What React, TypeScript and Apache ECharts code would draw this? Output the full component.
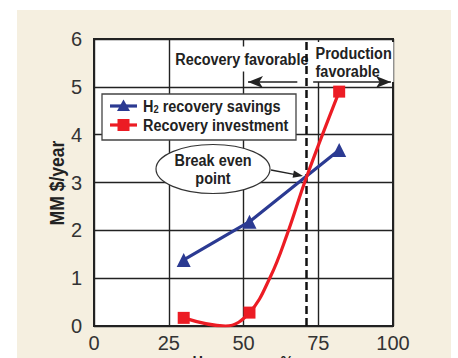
import React, { useEffect, useRef } from 'react';
import * as echarts from 'echarts';

const xTicks = [0, 25, 50, 75, 100];
const yTicks = [0, 1, 2, 3, 4, 5, 6];
const savingsName = 'H2 recovery savings';
const investName = 'Recovery investment';
const savingsX = [30, 52, 82];
const savingsY = [1.38, 2.18, 3.68];
const investX = [30, 44, 52, 59, 64.5, 71, 82];
const investY = [0.17, 0, 0.28, 1.03, 1.9, 3.1, 4.9];
const investMarked = [true, false, true, false, false, false, true];
const breakEvenX = 71;
const leftArrow = [68, 51.5, 5.1];
const rightArrow = [73.3, 99.3, 5.1];

const FF = '"Liberation Sans", Arial, sans-serif';
const SX = 0.85;
const BLUE = '#2b3a92';
const RED = '#ec1c24';
const INK = '#222';

const txt = (text: string, x: number, y: number, extra: any = {}, z = 5) => ({
  type: 'text', x, y, scaleX: SX, z,
  style: {
    text, fontFamily: FF, fontSize: 17, fontWeight: 'bold', fill: INK,
    align: 'left', verticalAlign: 'middle', ...extra,
  },
});

export default function App() {
  const ref = useRef<HTMLDivElement>(null);
  useEffect(() => {
    const chart = echarts.init(ref.current!, null, { renderer: 'svg' });
    const savingsData = savingsX.map((x, i) => [x, savingsY[i]]);
    const investData = investX.map((x, i) =>
      investMarked[i] ? { value: [x, investY[i]] } : { value: [x, investY[i]], symbol: 'none' }
    );
    const legendRich = {
      t: { fontFamily: FF, fontSize: 17, fontWeight: 'bold', fill: INK, lineHeight: 18 },
      s: { fontFamily: FF, fontSize: 11, fontWeight: 'bold', fill: INK, lineHeight: 18, verticalAlign: 'bottom', padding: [9, 0, 0, 0] },
    };
    chart.setOption({
      animation: false,
      backgroundColor: 'transparent',
      grid: {
        left: 94, top: 39, width: 299, height: 287, containLabel: false, outerBoundsMode: 'none',
        show: true, backgroundColor: '#fff', borderColor: INK, borderWidth: 2,
      },
      xAxis: {
        type: 'value', min: xTicks[0], max: xTicks[xTicks.length - 1], interval: 25,
        axisLine: { show: false }, axisTick: { show: false },
        splitLine: { show: true, lineStyle: { color: INK, width: 1.4 } },
        axisLabel: { fontFamily: FF, fontSize: 20, color: '#333', margin: 7 },
      },
      yAxis: {
        type: 'value', min: yTicks[0], max: yTicks[yTicks.length - 1], interval: 1,
        axisLine: { show: false }, axisTick: { show: false },
        splitLine: { show: true, lineStyle: { color: INK, width: 1.4 } },
        axisLabel: { fontFamily: FF, fontSize: 20, color: '#333', margin: 12 },
      },
      graphic: [
        txt('Recovery favorable', 171, 59, { backgroundColor: '#fff', padding: [4, 1, 4, 5] }),
        txt('Production\nfavorable', 313, 62, { lineHeight: 18, backgroundColor: '#fff', padding: [2, 2, 2, 3] }),
        {
          type: 'ellipse', z: 5,
          shape: { cx: 213, cy: 169, rx: 57, ry: 24.5 },
          style: { fill: '#fff', stroke: '#333', lineWidth: 1.2 },
        },
        txt('Break even\npoint', 213, 169, { align: 'center', lineHeight: 18 }, 6),
        {
          type: 'line', z: 6,
          shape: { x1: 271, y1: 170, x2: 294, y2: 174.3 },
          style: { stroke: INK, lineWidth: 1.3 },
        },
        {
          type: 'polygon', z: 6,
          shape: { points: [[303, 176], [292.6, 177.8], [293.9, 170.6]] },
          style: { fill: INK },
        },
        // legend box
        {
          type: 'rect', z: 7,
          shape: { x: 102, y: 94, width: 194, height: 46 },
          style: { fill: '#fff', stroke: '#444', lineWidth: 1.3 },
        },
        { type: 'line', z: 8, shape: { x1: 110, y1: 106, x2: 137, y2: 106 }, style: { stroke: BLUE, lineWidth: 3.2 } },
        { type: 'polygon', z: 8, shape: { points: [[123.5, 99.5], [130, 111], [117, 111]] }, style: { fill: BLUE } },
        { type: 'line', z: 8, shape: { x1: 110, y1: 125, x2: 137, y2: 125 }, style: { stroke: RED, lineWidth: 3.2 } },
        { type: 'rect', z: 8, shape: { x: 117.5, y: 119, width: 12, height: 12 }, style: { fill: RED } },
        txt('{t|H}{s|2}{t| recovery savings}', 143, 106, { rich: legendRich }, 8),
        txt(investName, 143, 125, {}, 8),
        // axis titles
        {
          type: 'text', x: 57, y: 183, rotation: Math.PI / 2, scaleX: 0.9, z: 5,
          style: { text: 'MM $/year', fontFamily: FF, fontSize: 19.5, fontWeight: 'bold', fill: INK, align: 'center', verticalAlign: 'middle' },
        },
        txt('H\u2082 recovery, %', 243, 354, { align: 'center', verticalAlign: 'top' }),
      ],
      series: [
        {
          name: savingsName, type: 'line', z: 10, data: savingsData,
          symbol: 'triangle', symbolSize: 14,
          lineStyle: { color: BLUE, width: 3.2 }, itemStyle: { color: BLUE },
        },
        {
          name: investName, type: 'line', z: 10, data: investData, smooth: 0.4,
          symbol: 'rect', symbolSize: 12,
          lineStyle: { color: RED, width: 3.2 }, itemStyle: { color: RED },
          markLine: {
            silent: true, symbol: ['none', 'none'], label: { show: false },
            lineStyle: { color: '#111', width: 2.5, type: [8, 4] },
            data: [{ xAxis: breakEvenX }],
          },
        },
        {
          name: 'arrows', type: 'line', z: 10, data: [],
          markLine: {
            silent: true, symbol: ['none', 'arrow'], symbolSize: [9, 15], label: { show: false },
            lineStyle: { color: INK, width: 1.5, type: 'solid' },
            data: [
              [{ coord: [leftArrow[0], leftArrow[2]] }, { coord: [leftArrow[1], leftArrow[2]] }],
              [{ coord: [rightArrow[0], rightArrow[2]] }, { coord: [rightArrow[1], rightArrow[2]] }],
            ],
          },
        },
      ],
    });
    return () => chart.dispose();
  }, []);
  return (
    <div style={{ position: 'fixed', left: 0, top: 0, width: 458, height: 358, background: '#fff', overflow: 'hidden' }}>
      <div style={{ position: 'absolute', left: 17, top: 10, width: 434, height: 348, background: '#f5efe0' }} />
      <div ref={ref} style={{ position: 'absolute', left: 0, top: 0, width: 458, height: 358 }} />
    </div>
  );
}
